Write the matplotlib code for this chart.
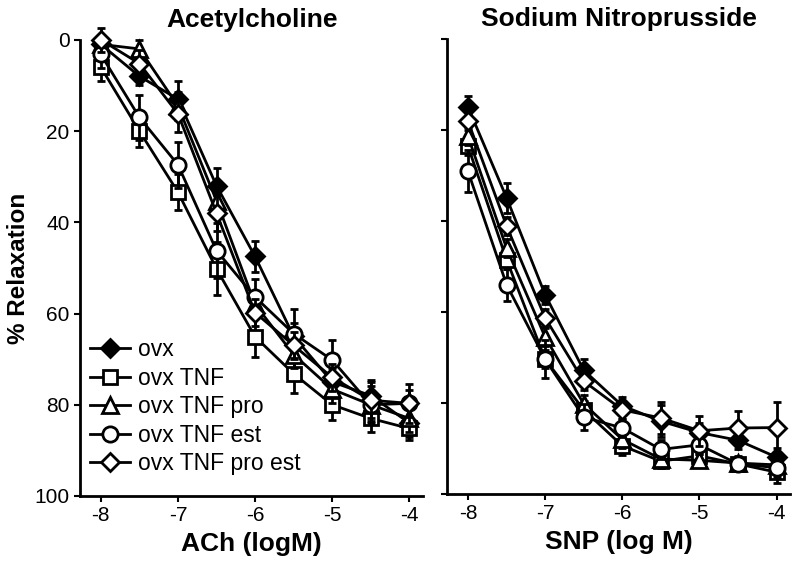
import numpy as np
import matplotlib
matplotlib.use('Agg')
from matplotlib import pyplot as plt

plt.rcParams['font.family'] = ['Liberation Sans', 'DejaVu Sans']
plt.rcParams['axes.unicode_minus'] = False

# log concentration
dose = [-8, -7.5, -7, -6.5, -6, -5.5, -5, -4.5, -4]
groups = ['ovx', 'ovx TNF', 'ovx TNF pro', 'ovx TNF est', 'ovx TNF pro est']

# acetylcholine, % relaxation and SEM
ach_ovx = [1, 8, 13, 32, 47.5, 65, 75, 78, 84]
ach_tnf = [6, 20, 33.4, 50.2, 65.1, 73.2, 80, 83, 85.2]
ach_pro = [1, 2, 14.5, 35.3, 58, 69, 76.6, 80, 83]
ach_est = [3.2, 17, 27.4, 46.2, 56.4, 64.4, 70.2, 80, 79.7]
ach_proest = [0, 5.2, 16.2, 38, 59.8, 67, 74, 79, 79.7]
ach_ovx_se = [2, 2, 4, 4, 3.5, 3, 3, 3, 3]
ach_tnf_se = [3, 3.5, 4, 5.8, 4.4, 4.3, 3.3, 3, 2.5]
ach_pro_se = [2, 2, 3, 3, 3, 3, 3, 3, 3]
ach_est_se = [3, 5, 5, 6, 4, 5.3, 4.5, 4, 4.2]
ach_proest_se = [2.6, 3, 4, 4, 3, 3, 3, 4.5, 3]

# sodium nitroprusside
snp_ovx = [15, 34.9, 56.2, 72.8, 80.6, 84, 86.5, 88.2, 91.9]
snp_tnf = [23.6, 48.5, 70.4, 81.5, 89.4, 92.8, 91.6, 93.4, 95.2]
snp_pro = [21.4, 46, 65.5, 80.2, 88, 92.3, 92.6, 93.2, 93.6]
snp_est = [29.1, 54, 70.4, 83.1, 85.5, 90.2, 89.2, 93.4, 94.2]
snp_proest = [18.1, 41.1, 61.3, 75.2, 81.5, 83.3, 86.1, 85.5, 85.4]
snp_ovx_se = [2.5, 3.3, 2, 2.5, 2, 3.5, 2, 2, 2]
snp_tnf_se = [2, 2, 2, 2, 2, 1.5, 1.5, 1.5, 2.3]
snp_pro_se = [2, 2, 2, 2, 2, 1.5, 1.5, 1.5, 1.5]
snp_est_se = [4.6, 3.5, 4.2, 2.8, 2, 2, 2, 1.5, 2]
snp_proest_se = [2, 2, 2, 2, 2, 3.6, 3.3, 3.8, 5.7]

# marker, face colour, size
styles = [('D', 'black', 9), ('s', 'white', 10), ('^', 'white', 11),
          ('o', 'white', 11), ('D', 'white', 9)]

fig = plt.figure(figsize=(8, 5.66), dpi=100)
ax1 = fig.add_axes([0.1, 0.1237, 0.429, 0.806])
ax2 = fig.add_axes([0.559, 0.1272, 0.429, 0.804])

panels = [
    (ax1, [ach_ovx, ach_tnf, ach_pro, ach_est, ach_proest],
     [ach_ovx_se, ach_tnf_se, ach_pro_se, ach_est_se, ach_proest_se],
     'Acetylcholine', 'ACh (logM)'),
    (ax2, [snp_ovx, snp_tnf, snp_pro, snp_est, snp_proest],
     [snp_ovx_se, snp_tnf_se, snp_pro_se, snp_est_se, snp_proest_se],
     'Sodium Nitroprusside', 'SNP (log M)'),
]

for ax, vals, errs, title, xlabel in panels:
    for i, (y, e) in enumerate(zip(vals, errs)):
        m, fc, ms = styles[i]
        ax.errorbar(dose, y, yerr=e, color='black', lw=2, elinewidth=2,
                    capsize=3, capthick=2, marker=m, mfc=fc, mec='black',
                    mew=2, ms=ms, label=groups[i], clip_on=False, zorder=3 + i)
    ax.set_xlim(-8.27, -3.82)
    ax.set_ylim(100, 0)
    ax.set_xticks([-8, -7, -6, -5, -4])
    ax.set_yticks([0, 20, 40, 60, 80, 100])
    for s in ['top', 'right']:
        ax.spines[s].set_visible(False)
    for s in ['left', 'bottom']:
        ax.spines[s].set_linewidth(2)
    ax.tick_params(direction='out', length=4, width=1.5, labelsize=15)
    ax.set_title(title, fontsize=19, fontweight='bold', pad=9)
    ax.set_xlabel(xlabel, fontsize=19, fontweight='bold', labelpad=5)

ax2.set_yticklabels([])
ax1.set_ylabel('% Relaxation', fontsize=17.5, fontweight='bold', labelpad=3)

# legend without error bars
handles = []
for i in range(5):
    m, fc, ms = styles[i]
    h, = ax1.plot([], [], color='black', lw=2, marker=m, mfc=fc, mec='black',
                  mew=2, ms=ms)
    handles.append(h)
ax1.legend(handles, groups, loc='lower left', bbox_to_anchor=(0.03, 0.045),
           frameon=False, fontsize=16.5, handlelength=1.75, handletextpad=0.35,
           labelspacing=0.24, borderpad=0, borderaxespad=0)

fig.savefig('out.png', dpi=100)
